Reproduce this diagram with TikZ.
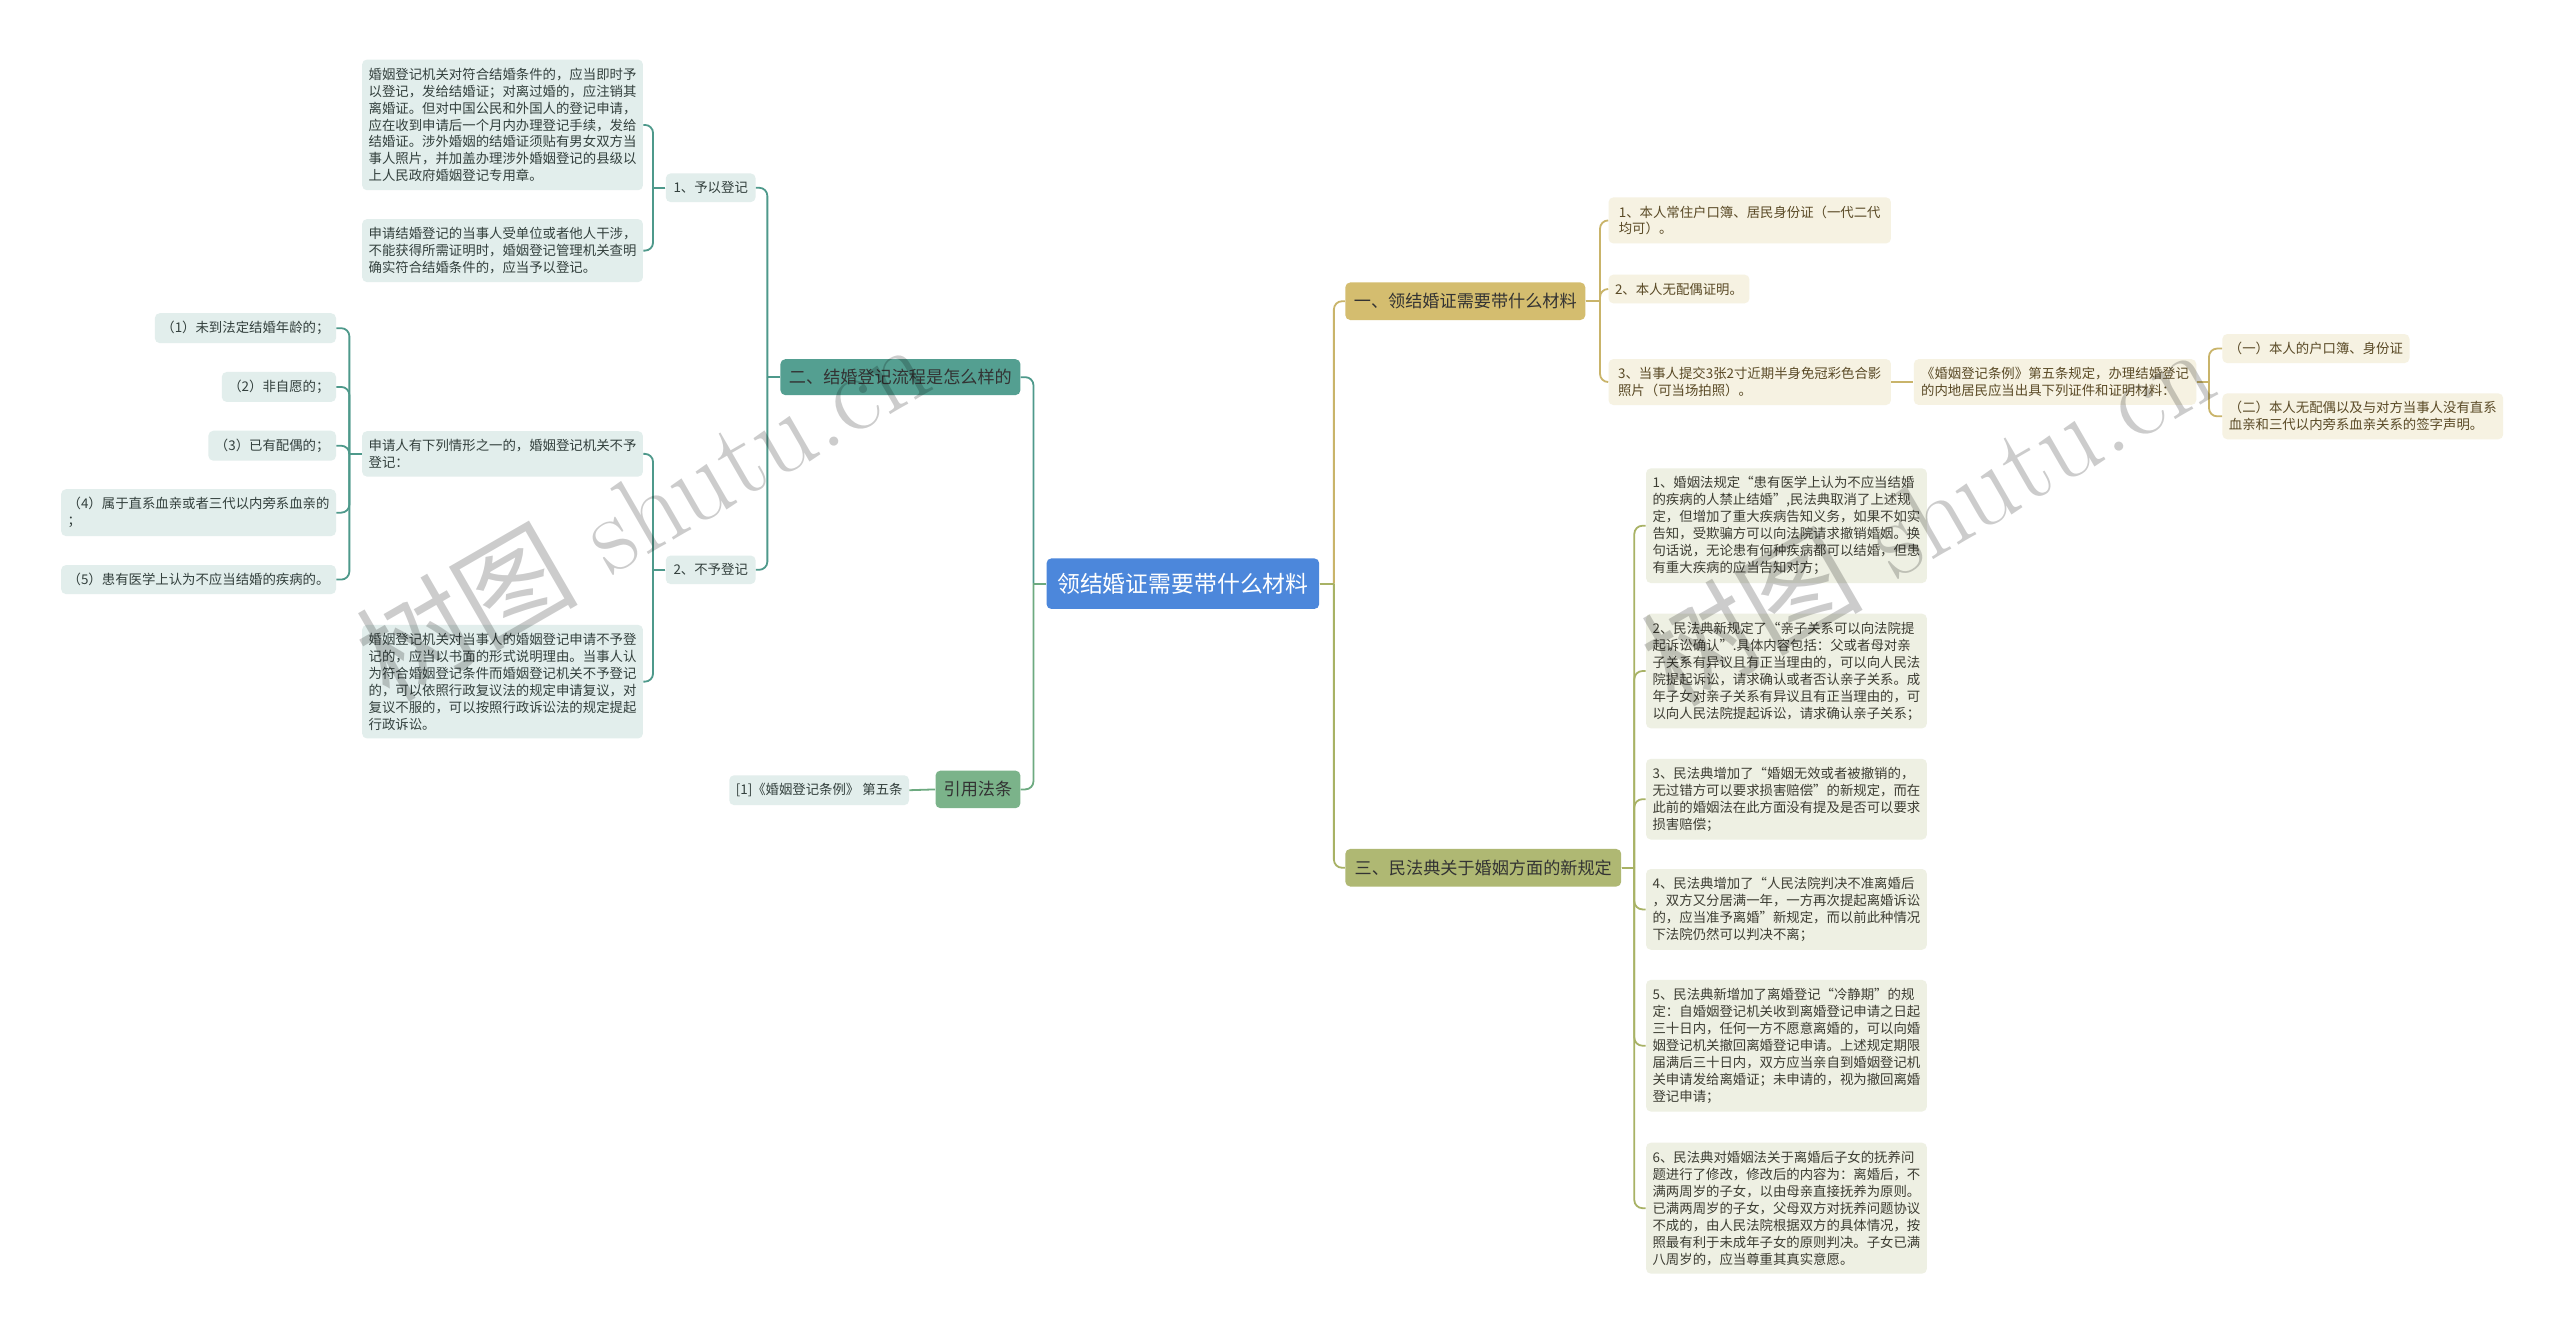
\documentclass[tikz,border=0pt]{standalone}
\usepackage{fontspec}
\newfontfamily\cjk{Noto Sans CJK SC}
\newcommand\lfnt{\cjk\fontsize{8.2pt}{10.4pt}\selectfont}
\definecolor{rootc}{HTML}{4C87DB}
\definecolor{tealc}{HTML}{549F91}
\definecolor{greenc}{HTML}{7BB38A}
\definecolor{goldc}{HTML}{D4BD6F}
\definecolor{olivc}{HTML}{AFB873}
\definecolor{lleafc}{HTML}{E2EEEC}
\definecolor{gleafc}{HTML}{F6F2E2}
\definecolor{oleafc}{HTML}{EEF0E3}
\definecolor{ltext}{HTML}{33403D}
\definecolor{gtext}{HTML}{5A4A26}
\definecolor{otext}{HTML}{3D3D33}
\definecolor{tealln}{HTML}{4E998B}
\definecolor{greenln}{HTML}{6DAA80}
\definecolor{goldln}{HTML}{C9B46A}
\definecolor{olivln}{HTML}{A8B265}
\tikzset{
  mmbox/.style={rounded corners=3pt, inner xsep=4pt, inner ysep=5pt, align=left, font=\lfnt},
  lleaf/.style={mmbox, fill=lleafc, text=ltext},
  gleaf/.style={mmbox, fill=gleafc, text=gtext},
  oleaf/.style={mmbox, fill=oleafc, text=otext},
  mainbox/.style={rounded corners=3pt, inner sep=0pt, font=\cjk\fontsize{10.5pt}{12pt}\selectfont},
  lnT/.style={draw=tealln, line width=1.1pt},
  lnG/.style={draw=greenln, line width=1.1pt},
  lnY/.style={draw=goldln, line width=1.1pt},
  lnO/.style={draw=olivln, line width=1.1pt},
  wmark/.style={rotate=30, text=black, text opacity=0.2, inner sep=0pt}
}
\newcommand\mmL[4]{\draw[#1] (#2.west) -- (#2.west -| #3);
  \draw[#1,rounded corners=5pt] (#2.west -| #3) |- (#4.east);}
\newcommand\mmR[4]{\draw[#1] (#2.east) -- (#2.east -| #3);
  \draw[#1,rounded corners=5pt] (#2.east -| #3) |- (#4.west);}
\begin{document}
\begin{tikzpicture}[x=1pt,y=-1pt]
\fill[white] (0,0) rectangle (1568,816.4);
\path[use as bounding box] (0,0) rectangle (1568,816.4);
% trunk coordinates
\coordinate (tRootL) at (633,0);
\coordinate (tRootR) at (817,0);
\coordinate (tTwo) at (470,0);
\coordinate (tA) at (400,0);
\coordinate (tC) at (214,0);
\coordinate (tOne) at (980,0);
\coordinate (tNest) at (1353,0);
\coordinate (tThree) at (1001,0);

% main nodes
\node[mainbox, fill=rootc, text=white, minimum width=167pt, minimum height=31pt,
  font=\cjk\fontsize{14pt}{16pt}\selectfont] (root) at (724.5,357.5) {领结婚证需要带什么材料};
\node[mainbox, fill=tealc, text=black!80, minimum width=147pt, minimum height=22pt] (two) at (551.5,231) {二、结婚登记流程是怎么样的};
\node[mainbox, fill=greenc, text=black!80, minimum width=52pt, minimum height=23pt] (cite) at (599,483.5) {引用法条};
\node[mainbox, fill=goldc, text=black!80, minimum width=147pt, minimum height=23pt] (one) at (897.5,184.5) {一、领结婚证需要带什么材料};
\node[mainbox, fill=olivc, text=black!80, minimum width=169pt, minimum height=23pt] (three) at (908.5,531.5) {三、民法典关于婚姻方面的新规定};

% left second level
\node[lleaf, anchor=east, minimum width=55pt] (reg) at (463,115) {1、予以登记};
\node[lleaf, anchor=east, minimum width=55pt] (noreg) at (463,349) {2、不予登记};

\node[lleaf, anchor=east, minimum width=172pt] (la) at (394,76.5) {婚姻登记机关对符合结婚条件的，应当即时予\\以登记，发给结婚证；对离过婚的，应注销其\\离婚证。但对中国公民和外国人的登记申请，\\应在收到申请后一个月内办理登记手续，发给\\结婚证。涉外婚姻的结婚证须贴有男女双方当\\事人照片，并加盖办理涉外婚姻登记的县级以\\上人民政府婚姻登记专用章。};
\node[lleaf, anchor=east, minimum width=172pt] (lb) at (394,153.5) {申请结婚登记的当事人受单位或者他人干涉，\\不能获得所需证明时，婚姻登记管理机关查明\\确实符合结婚条件的，应当予以登记。};
\node[lleaf, anchor=east, minimum width=172pt] (lc) at (394,278) {申请人有下列情形之一的，婚姻登记机关不予\\登记：};
\node[lleaf, anchor=east, minimum width=172pt] (ld) at (394,417.5) {婚姻登记机关对当事人的婚姻登记申请不予登\\记的，应当以书面的形式说明理由。当事人认\\为符合婚姻登记条件而婚姻登记机关不予登记\\的，可以依照行政复议法的规定申请复议，对\\复议不服的，可以按照行政诉讼法的规定提起\\行政诉讼。};

\node[lleaf, anchor=east] (c1) at (206,201) {（1）未到法定结婚年龄的；};
\node[lleaf, anchor=east] (c2) at (206,237) {（2）非自愿的；};
\node[lleaf, anchor=east] (c3) at (206,273) {（3）已有配偶的；};
\node[lleaf, anchor=east] (c4) at (206,314) {（4）属于直系血亲或者三代以内旁系血亲的\\；};
\node[lleaf, anchor=east] (c5) at (206,355) {（5）患有医学上认为不应当结婚的疾病的。};

\node[lleaf, anchor=east, minimum width=110pt] (law) at (557,484) {[1]《婚姻登记条例》 第五条};

% right side
\node[gleaf, anchor=west, minimum width=173pt] (g1) at (985,135) {1、本人常住户口簿、居民身份证（一代二代\\均可）。};
\node[gleaf, anchor=west] (g2) at (985,177) {2、本人无配偶证明。};
\node[gleaf, anchor=west, minimum width=173pt] (g3) at (985,234) {3、当事人提交3张2寸近期半身免冠彩色合影\\照片（可当场拍照）。};
\node[gleaf, anchor=west, minimum width=173pt] (gn) at (1172,234) {《婚姻登记条例》第五条规定，办理结婚登记\\的内地居民应当出具下列证件和证明材料：};
\node[gleaf, anchor=west] (gx) at (1361,213.5) {（一）本人的户口簿、身份证};
\node[gleaf, anchor=west, minimum width=171pt] (gy) at (1361,255) {（二）本人无配偶以及与对方当事人没有直系\\血亲和三代以内旁系血亲关系的签字声明。};

\node[oleaf, anchor=west, minimum width=172pt] (o1) at (1008,322) {1、婚姻法规定“患有医学上认为不应当结婚\\的疾病的人禁止结婚”,民法典取消了上述规\\定，但增加了重大疾病告知义务，如果不如实\\告知，受欺骗方可以向法院请求撤销婚姻。换\\句话说，无论患有何种疾病都可以结婚，但患\\有重大疾病的应当告知对方；};
\node[oleaf, anchor=west, minimum width=172pt] (o2) at (1008,411) {2、民法典新规定了“亲子关系可以向法院提\\起诉讼确认”.具体内容包括：父或者母对亲\\子关系有异议且有正当理由的，可以向人民法\\院提起诉讼，请求确认或者否认亲子关系。成\\年子女对亲子关系有异议且有正当理由的，可\\以向人民法院提起诉讼，请求确认亲子关系；};
\node[oleaf, anchor=west, minimum width=172pt] (o3) at (1008,489.5) {3、民法典增加了“婚姻无效或者被撤销的，\\无过错方可以要求损害赔偿”的新规定，而在\\此前的婚姻法在此方面没有提及是否可以要求\\损害赔偿；};
\node[oleaf, anchor=west, minimum width=172pt] (o4) at (1008,557) {4、民法典增加了“人民法院判决不准离婚后\\，双方又分居满一年，一方再次提起离婚诉讼\\的，应当准予离婚”新规定，而以前此种情况\\下法院仍然可以判决不离；};
\node[oleaf, anchor=west, minimum width=172pt] (o5) at (1008,640.5) {5、民法典新增加了离婚登记“冷静期”的规\\定：自婚姻登记机关收到离婚登记申请之日起\\三十日内，任何一方不愿意离婚的，可以向婚\\姻登记机关撤回离婚登记申请。上述规定期限\\届满后三十日内，双方应当亲自到婚姻登记机\\关申请发给离婚证；未申请的，视为撤回离婚\\登记申请；};
\node[oleaf, anchor=west, minimum width=172pt] (o6) at (1008,740) {6、民法典对婚姻法关于离婚后子女的抚养问\\题进行了修改，修改后的内容为：离婚后，不\\满两周岁的子女，以由母亲直接抚养为原则。\\已满两周岁的子女，父母双方对抚养问题协议\\不成的，由人民法院根据双方的具体情况，按\\照最有利于未成年子女的原则判决。子女已满\\八周岁的，应当尊重其真实意愿。};

% connectors
\mmL{lnT}{root}{tRootL}{two}
\mmL{lnG}{root}{tRootL}{cite}
\mmL{lnT}{two}{tTwo}{reg}
\mmL{lnT}{two}{tTwo}{noreg}
\mmL{lnT}{reg}{tA}{la}
\mmL{lnT}{reg}{tA}{lb}
\mmL{lnT}{noreg}{tA}{lc}
\mmL{lnT}{noreg}{tA}{ld}
\mmL{lnT}{lc}{tC}{c1}
\mmL{lnT}{lc}{tC}{c2}
\mmL{lnT}{lc}{tC}{c3}
\mmL{lnT}{lc}{tC}{c4}
\mmL{lnT}{lc}{tC}{c5}
\draw[lnG] (cite.west) -- (law.east);

\mmR{lnY}{root}{tRootR}{one}
\mmR{lnO}{root}{tRootR}{three}
\mmR{lnY}{one}{tOne}{g1}
\mmR{lnY}{one}{tOne}{g2}
\mmR{lnY}{one}{tOne}{g3}
\draw[lnY] (g3.east) -- (gn.west);
\mmR{lnY}{gn}{tNest}{gx}
\mmR{lnY}{gn}{tNest}{gy}
\mmR{lnO}{three}{tThree}{o1}
\mmR{lnO}{three}{tThree}{o2}
\mmR{lnO}{three}{tThree}{o3}
\mmR{lnO}{three}{tThree}{o4}
\mmR{lnO}{three}{tThree}{o5}
\mmR{lnO}{three}{tThree}{o6}

% watermarks
\node[wmark, font=\fontsize{68pt}{68pt}\selectfont] (wm1) at (393,312) {{\cjk 树图} shutu.cn};
\node[wmark, font=\fontsize{68pt}{68pt}\selectfont] (wm2) at (1180,315) {{\cjk 树图} shutu.cn};
\end{tikzpicture}
\end{document}
